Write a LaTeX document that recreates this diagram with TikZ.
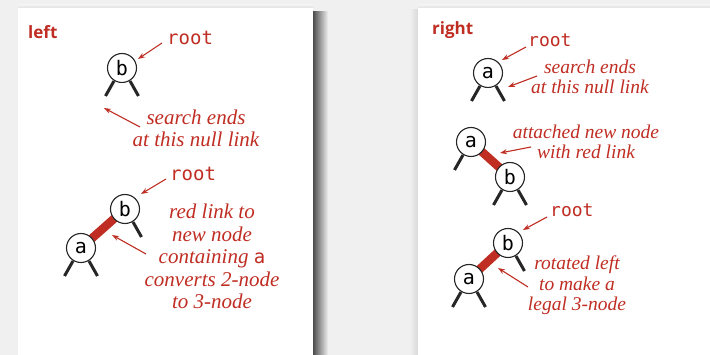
\documentclass[tikz,border=0pt]{standalone}
\usepackage{fontspec}
\setmainfont{Liberation Serif}
\newfontfamily\headfont{Open Sans}
\newfontfamily\codefont{DejaVu Sans Mono}
\usetikzlibrary{arrows.meta,calc}

\definecolor{bgc}{RGB}{240,240,240}
\definecolor{bookred}{RGB}{192,45,35}

\tikzset{
  treenode/.style={circle, draw=black!85, line width=1.1pt, fill=white,
    minimum size=29pt, inner sep=0pt, font=\codefont\fontsize{20}{20}\selectfont},
  nulllink/.style={line width=3pt, black!85},
  redlink/.style={line width=8.5pt, bookred},
  callout/.style={bookred, line width=1.1pt, -{Stealth[length=7pt,width=5pt]}},
  rootlabel/.style={bookred, anchor=base west, inner sep=0pt,
    font=\codefont\fontsize{19}{19}\selectfont},
  % multi-line notes are placed by the baseline of their last line
  notel/.style={bookred, align=center, inner sep=0pt, anchor=base,
    font=\itshape\fontsize{21}{22.5}\selectfont},
  noter/.style={bookred, align=center, inner sep=0pt, anchor=base,
    font=\itshape\fontsize{19.5}{20.5}\selectfont},
  panelhead/.style={bookred, anchor=base west, inner sep=0pt,
    font=\headfont\bfseries\fontsize{17}{17}\selectfont},
  legs/.pic={
    \draw[nulllink] (-8,13) -- (-16.5,28);
    \draw[nulllink] (8,13) -- (16.5,28);
  },
  rightleg/.pic={
    \draw[nulllink] (8,13) -- (16.5,28);
  },
  leftleg/.pic={
    \draw[nulllink] (-8,13) -- (-16.5,28);
  }
}

\begin{document}
\begin{tikzpicture}[x=1pt, y=-1pt]
\useasboundingbox (0,0) rectangle (710,355);
% page background and the two panels with their shadows
\fill[bgc] (0,0) rectangle (710,355);
\shade[left color=black!70, right color=bgc] (313,12) rectangle (328,355);
\shade[left color=bgc, right color=black!15] (410,10) rectangle (418,355);
\shade[top color=bgc, bottom color=black!12] (18,5) rectangle (313,8);
\shade[top color=bgc, bottom color=black!12] (418,5) rectangle (710,8);
\fill[white] (18,8) rectangle (313,355);
\fill[white] (418,8) rectangle (710,355);

% ---------- left panel ----------
\node[panelhead] (hl) at (28,39) {left};

% search for a in the single-node tree b
\node[rootlabel] (root1) at (167,45) {root};
\pic at (122,68) {legs};
\node[treenode] (b1) at (122,68) {b};
\coordinate (c1s) at (162,43); \coordinate (c1e) at (138,59);
\draw[callout] (c1s) -- (c1e);
\node[notel] (t1) at (196,147) {search ends\\at this null link};
\coordinate (c2s) at (140,127); \coordinate (c2e) at (104,108);
\draw[callout] (c2s) -- (c2e);

% result: b with red left child a
\node[rootlabel] (root2) at (170,181) {root};
\coordinate (b2p) at (125,209);
\coordinate (a2p) at (81,248);
\draw[redlink] (b2p) -- (a2p);
\pic at (b2p) {rightleg};
\pic at (a2p) {legs};
\node[treenode] (b2) at (b2p) {b};
\node[treenode] (a2) at (a2p) {a};
\coordinate (c3s) at (166,179); \coordinate (c3e) at (141,194);
\draw[callout] (c3s) -- (c3e);
\coordinate (c4s) at (146,254); \coordinate (c4e) at (112,235);
\draw[callout] (c4s) -- (c4e);
\node[notel] (t2) at (212,309) {red link to\\new node\\containing {\upshape\codefont\fontsize{19}{19}\selectfont a}\\converts 2-node\\to 3-node};

% ---------- right panel ----------
\node[panelhead] (hr) at (432,35) {right};

% search for b in the single-node tree a
\node[rootlabel, font=\codefont\fontsize{18}{18}\selectfont] (root3) at (528,47) {root};
\pic at (488,73) {legs};
\node[treenode] (a3) at (488,73) {a};
\coordinate (c5s) at (526,47); \coordinate (c5e) at (502,60);
\draw[callout] (c5s) -- (c5e);
\coordinate (c6s) at (537,76); \coordinate (c6e) at (508,87);
\draw[callout] (c6s) -- (c6e);
\node[noter] (t3) at (590,94) {search ends\\at this null link};

% attach b as a red right child
\coordinate (a4p) at (471,142);
\coordinate (b4p) at (510,177);
\draw[redlink] (a4p) -- (b4p);
\pic at (a4p) {leftleg};
\pic at (b4p) {legs};
\node[treenode] (a4) at (a4p) {a};
\node[treenode] (b4) at (b4p) {b};
\coordinate (c7s) at (531,147); \coordinate (c7e) at (500,153);
\draw[callout] (c7s) -- (c7e);
\node[noter] (t4) at (586,159) {attached new node\\with red link};

% after rotating left
\node[rootlabel, font=\codefont\fontsize{18}{18}\selectfont] (root5) at (550,217) {root};
\coordinate (b5p) at (508,243);
\coordinate (a5p) at (469,279);
\draw[redlink] (b5p) -- (a5p);
\pic at (b5p) {rightleg};
\pic at (a5p) {legs};
\node[treenode] (b5) at (b5p) {b};
\node[treenode] (a5) at (a5p) {a};
\coordinate (c8s) at (547,217); \coordinate (c8e) at (523,230);
\draw[callout] (c8s) -- (c8e);
\coordinate (c9s) at (528,287); \coordinate (c9e) at (498,268);
\draw[callout] (c9s) -- (c9e);
\node[noter] (t5) at (577,311) {rotated left\\to make a\\legal 3-node};
\end{tikzpicture}
\end{document}
